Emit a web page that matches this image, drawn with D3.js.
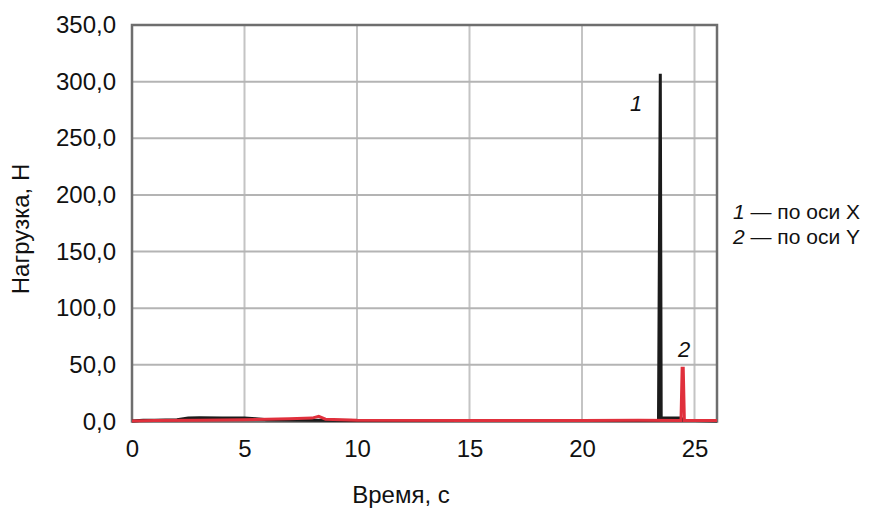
<!DOCTYPE html>
<html><head><meta charset="utf-8">
<script src="https://cdn.jsdelivr.net/npm/d3@7"></script>
<style>body{margin:0;background:#fff}svg{display:block}text{font-family:"Liberation Sans",Arial,sans-serif}</style>
</head><body><svg id="c" width="884" height="510"></svg>
<script>
const xTicks = [0, 5, 10, 15, 20, 25];
const yTicks = [0, 50, 100, 150, 200, 250, 300, 350];
const t1 = [0, 0.5, 1, 2, 2.5, 3, 4, 5, 5.5, 6, 8, 10, 15, 20, 23.4, 23.48, 23.52, 24.4, 24.5, 25, 26];
const v1 = [0.5, 1, 1.2, 1.5, 3, 3.2, 3, 3, 2.5, 1.5, 1, 0.8, 0.8, 0.8, 1, 307, 3, 3, 0.8, 0.8, 0.5];
const t2 = [0, 1, 3, 5, 6, 7, 8, 8.3, 8.6, 10, 15, 20, 22.5, 24.4, 24.45, 24.5, 24.55, 26];
const v2 = [0.5, 0.8, 1, 1.5, 2, 2.5, 3, 4.5, 2, 1, 0.8, 0.8, 1, 0.8, 47, 47, 0.8, 0.8];
const legend = ["1 — по оси X", "2 — по оси Y"];

const svg = d3.select("#c");
const L = 132, R = 717, T = 25, B = 421.5;
const x = d3.scaleLinear().domain([0, 26]).range([L, R]);
const y = d3.scaleLinear().domain([0, 350]).range([B, T]);

// grid
svg.append("g").selectAll("line").data(xTicks).join("line")
  .attr("x1", d => x(d)).attr("x2", d => x(d)).attr("y1", T).attr("y2", B)
  .attr("stroke", "#c4c4c4").attr("stroke-width", 2);
svg.append("g").selectAll("line").data(yTicks).join("line")
  .attr("x1", L).attr("x2", R).attr("y1", d => y(d)).attr("y2", d => y(d))
  .attr("stroke", "#b4b4b4").attr("stroke-width", 2);
// frame
svg.append("rect").attr("x", L).attr("y", T).attr("width", R - L).attr("height", B - T)
  .attr("fill", "none").attr("stroke", "#6e6e6e").attr("stroke-width", 2.5);

const FS = 24;
// axes
const yAxis = d3.axisLeft(y).tickValues(yTicks).tickSize(0).tickPadding(16)
  .tickFormat(d => d3.format(".1f")(d).replace(".", ","));
const gy = svg.append("g").attr("transform", `translate(${L},0)`).call(yAxis);
gy.select(".domain").remove();
gy.selectAll("text").attr("font-size", FS).attr("fill", "#111").attr("font-family", "Liberation Sans, Arial, sans-serif");

const xAxis = d3.axisBottom(x).tickValues(xTicks).tickSize(0).tickPadding(18);
const gx = svg.append("g").attr("transform", `translate(0,${B})`).call(xAxis);
gx.select(".domain").remove();
gx.selectAll("text").attr("font-size", FS).attr("fill", "#111").attr("font-family", "Liberation Sans, Arial, sans-serif");

// lines
const line = d3.line().x(d => x(d[0])).y(d => y(d[1]));
svg.append("path").datum(d3.zip(t1, v1)).attr("d", line)
  .attr("fill", "none").attr("stroke", "#1b1b1b").attr("stroke-width", 3);
svg.append("path").datum(d3.zip(t2, v2)).attr("d", line)
  .attr("fill", "none").attr("stroke", "#e0303c").attr("stroke-width", 3);

// labels
svg.append("text").attr("x", 636).attr("y", 111).attr("font-size", 22).attr("font-style", "italic").attr("text-anchor", "middle").attr("fill", "#111").text("1");
svg.append("text").attr("x", 684).attr("y", 357).attr("font-size", 22).attr("font-style", "italic").attr("text-anchor", "middle").attr("fill", "#111").text("2");

// legend
const lg = svg.append("g");
legend.forEach((s, i) => {
  const tx = lg.append("text").attr("x", 733).attr("y", 219 + i * 25).attr("font-size", 21).attr("fill", "#111");
  tx.append("tspan").attr("font-style", "italic").text(s.slice(0, 1));
  tx.append("tspan").text(s.slice(1));
});

// titles
svg.append("text").attr("x", 401).attr("y", 503).attr("font-size", FS).attr("text-anchor", "middle").attr("fill", "#111").text("Время, с");
svg.append("text").attr("transform", "translate(29,229) rotate(-90)").attr("font-size", FS).attr("text-anchor", "middle").attr("fill", "#111").text("Нагрузка, Н");
</script></body></html>
